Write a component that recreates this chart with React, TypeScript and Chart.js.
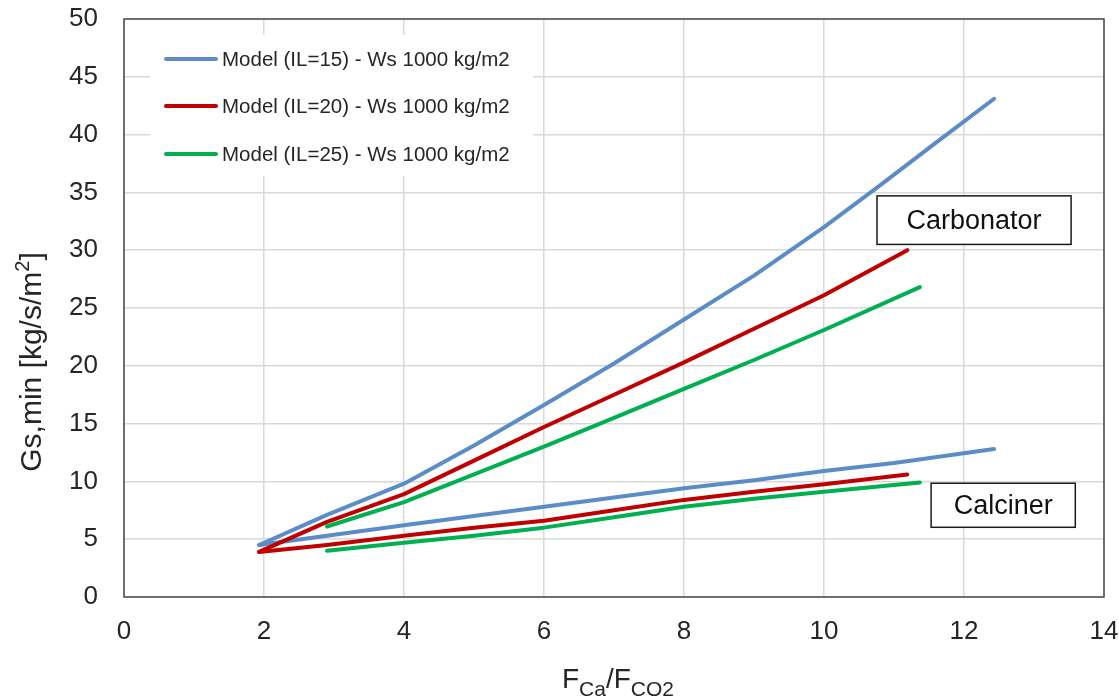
import { useEffect, useRef } from 'react';
import { Chart, registerables } from 'chart.js';

Chart.register(...registerables);

const FONT = "'Liberation Sans', Arial, sans-serif";
const TEXT = '#262626';

// x-axis / y-axis ranges
const xRange = [0, 14];
const yRange = [0, 50];
const xStep = 2;
const yStep = 5;

// Carbonator curves
const carb15X = [1.93, 2.9, 4, 5, 6, 7, 8, 9, 10, 10.8, 11.6, 12.43];
const carb15Y = [4.5, 7.1, 9.8, 13.1, 16.6, 20.2, 24.0, 27.8, 32.0, 35.6, 39.3, 43.1];
const carb20X = [1.93, 2.9, 4, 5, 6, 7, 8, 9, 10, 11.19];
const carb20Y = [3.9, 6.5, 8.9, 11.8, 14.7, 17.5, 20.3, 23.2, 26.1, 30.0];
const carb25X = [2.9, 4, 5, 6, 7, 8, 9, 10, 11.37];
const carb25Y = [6.1, 8.2, 10.6, 13.0, 15.5, 18.0, 20.5, 23.1, 26.8];

// Calciner curves
const calc15X = [1.93, 2.9, 4, 5, 6, 7, 8, 9, 10, 11, 12.43];
const calc15Y = [4.5, 5.3, 6.2, 7.0, 7.8, 8.6, 9.4, 10.1, 10.9, 11.6, 12.8];
const calc20X = [1.93, 2.9, 4, 5, 6, 7, 8, 9, 10, 11.19];
const calc20Y = [3.9, 4.5, 5.3, 6.0, 6.6, 7.5, 8.4, 9.1, 9.75, 10.6];
const calc25X = [2.9, 4, 5, 6, 7, 8, 9, 10, 11.37];
const calc25Y = [4.0, 4.7, 5.3, 6.0, 6.9, 7.8, 8.5, 9.1, 9.9];

const seriesLabels = [
  'Model (IL=15) - Ws 1000 kg/m2',
  'Model (IL=20) - Ws 1000 kg/m2',
  'Model (IL=25) - Ws 1000 kg/m2',
];
const seriesColors = ['#5B8CC8', '#C00000', '#00B050'];

// annotation boxes in data units: [xLeft, xRight, yTop, yBottom]
const carbBox = [10.757, 13.53, 34.7, 30.5];
const calcBox = [11.53, 13.59, 9.84, 6.03];
const carbLabel = 'Carbonator';
const calcLabel = 'Calciner';

const toPts = (xs: number[], ys: number[]) => xs.map((x, i) => ({ x, y: ys[i] }));

const overlayPlugin = {
  id: 'overlay',
  afterDraw(chart: any) {
    const { ctx, chartArea } = chart;
    const xs = chart.scales.x;
    const ys = chart.scales.y;
    ctx.save();

    // plot border
    ctx.strokeStyle = '#4a4a4a';
    ctx.lineWidth = 1.5;
    ctx.strokeRect(chartArea.left, chartArea.top, chartArea.right - chartArea.left, chartArea.bottom - chartArea.top);

    // legend
    ctx.fillStyle = '#ffffff';
    ctx.fillRect(150, 35, 383, 141);
    const rows = [59, 106, 154];
    ctx.font = `20.5px ${FONT}`;
    ctx.textBaseline = 'middle';
    ctx.textAlign = 'left';
    rows.forEach((ry, i) => {
      ctx.strokeStyle = seriesColors[i];
      ctx.lineWidth = 4;
      ctx.lineCap = 'round';
      ctx.beginPath();
      ctx.moveTo(166, ry);
      ctx.lineTo(216, ry);
      ctx.stroke();
      ctx.fillStyle = TEXT;
      ctx.fillText(seriesLabels[i], 222, ry + 1);
    });

    // annotation boxes
    const drawBox = (b: number[], label: string) => {
      const l = xs.getPixelForValue(b[0]);
      const r = xs.getPixelForValue(b[1]);
      const t = ys.getPixelForValue(b[2]);
      const bt = ys.getPixelForValue(b[3]);
      ctx.fillStyle = '#ffffff';
      ctx.fillRect(l, t, r - l, bt - t);
      ctx.strokeStyle = '#1a1a1a';
      ctx.lineWidth = 1.5;
      ctx.lineCap = 'butt';
      ctx.strokeRect(l, t, r - l, bt - t);
      ctx.fillStyle = '#111';
      ctx.font = `27px ${FONT}`;
      ctx.textAlign = 'center';
      ctx.textBaseline = 'middle';
      ctx.fillText(label, (l + r) / 2, (t + bt) / 2 + 1);
    };
    drawBox(carbBox, carbLabel);
    drawBox(calcBox, calcLabel);

    // x-axis title: F_Ca / F_CO2
    const big = `28px ${FONT}`;
    const small = `21px ${FONT}`;
    const parts: [string, string, number][] = [
      ['F', big, 0],
      ['Ca', small, 8],
      ['/F', big, 0],
      ['CO2', small, 8],
    ];
    let total = 0;
    parts.forEach(([s, f]) => { ctx.font = f; total += ctx.measureText(s).width; });
    let cx = 618 - total / 2;
    const baseY = 688;
    ctx.textAlign = 'left';
    ctx.textBaseline = 'alphabetic';
    ctx.fillStyle = TEXT;
    parts.forEach(([s, f, dy]) => {
      ctx.font = f;
      ctx.fillText(s, cx, baseY + dy);
      cx += ctx.measureText(s).width;
    });

    // y-axis title: Gs,min [kg/s/m²]
    ctx.translate(41, 362);
    ctx.rotate(-Math.PI / 2);
    const yBig = `30px ${FONT}`;
    const ySmall = `20px ${FONT}`;
    const yParts: [string, string, number][] = [
      ['Gs,min [kg/s/m', yBig, 0],
      ['2', ySmall, -12],
      [']', yBig, 0],
    ];
    let yt = 0;
    yParts.forEach(([s, f]) => { ctx.font = f; yt += ctx.measureText(s).width; });
    let px = -yt / 2;
    yParts.forEach(([s, f, dy]) => {
      ctx.font = f;
      ctx.fillText(s, px, dy);
      px += ctx.measureText(s).width;
    });

    ctx.restore();
  },
};

export default function App() {
  const ref = useRef<HTMLCanvasElement | null>(null);

  useEffect(() => {
    document.body.style.margin = '0';
    const canvas = ref.current;
    if (!canvas) return;
    const mk = (label: string, xs: number[], ys: number[], color: string) => ({
      label,
      data: toPts(xs, ys),
      borderColor: color,
      backgroundColor: color,
      borderWidth: 4,
      pointRadius: 0,
      showLine: true,
      tension: 0,
      borderCapStyle: 'round' as const,
      borderJoinStyle: 'round' as const,
      fill: false,
    });
    const chart = new Chart(canvas, {
      type: 'scatter',
      data: {
        datasets: [
          mk(seriesLabels[0], carb15X, carb15Y, seriesColors[0]),
          mk(seriesLabels[1], carb20X, carb20Y, seriesColors[1]),
          mk(seriesLabels[2], carb25X, carb25Y, seriesColors[2]),
          mk(seriesLabels[0] + ' calciner', calc15X, calc15Y, seriesColors[0]),
          mk(seriesLabels[1] + ' calciner', calc20X, calc20Y, seriesColors[1]),
          mk(seriesLabels[2] + ' calciner', calc25X, calc25Y, seriesColors[2]),
        ],
      },
      options: {
        animation: false,
        responsive: false,
        devicePixelRatio: 1,
        layout: { padding: { top: 19, right: 15, left: 0, bottom: 0 } },
        plugins: {
          legend: { display: false },
          tooltip: { enabled: false },
          title: { display: false },
        },
        scales: {
          x: {
            type: 'linear',
            min: xRange[0],
            max: xRange[1],
            ticks: { stepSize: xStep, font: { family: FONT, size: 26 }, color: TEXT, padding: 0 },
            grid: { color: '#d9d9d9', lineWidth: 1.5, drawTicks: true, tickLength: 19, tickColor: 'rgba(0,0,0,0)' },
            border: { display: false },
            afterFit: (s: any) => { s.height = 102; },
          },
          y: {
            type: 'linear',
            min: yRange[0],
            max: yRange[1],
            ticks: { stepSize: yStep, font: { family: FONT, size: 26 }, color: TEXT, padding: 0 },
            grid: { color: '#d9d9d9', lineWidth: 1.5, drawTicks: true, tickLength: 26, tickColor: 'rgba(0,0,0,0)' },
            border: { display: false },
            afterFit: (s: any) => { s.width = 124; },
          },
        },
      },
      plugins: [overlayPlugin],
    });
    return () => chart.destroy();
  }, []);

  return (
    <div style={{ position: 'absolute', left: 0, top: 0, width: 1119, height: 699, background: '#fff' }}>
      <canvas ref={ref} width={1119} height={699} style={{ width: 1119, height: 699 }} />
    </div>
  );
}
